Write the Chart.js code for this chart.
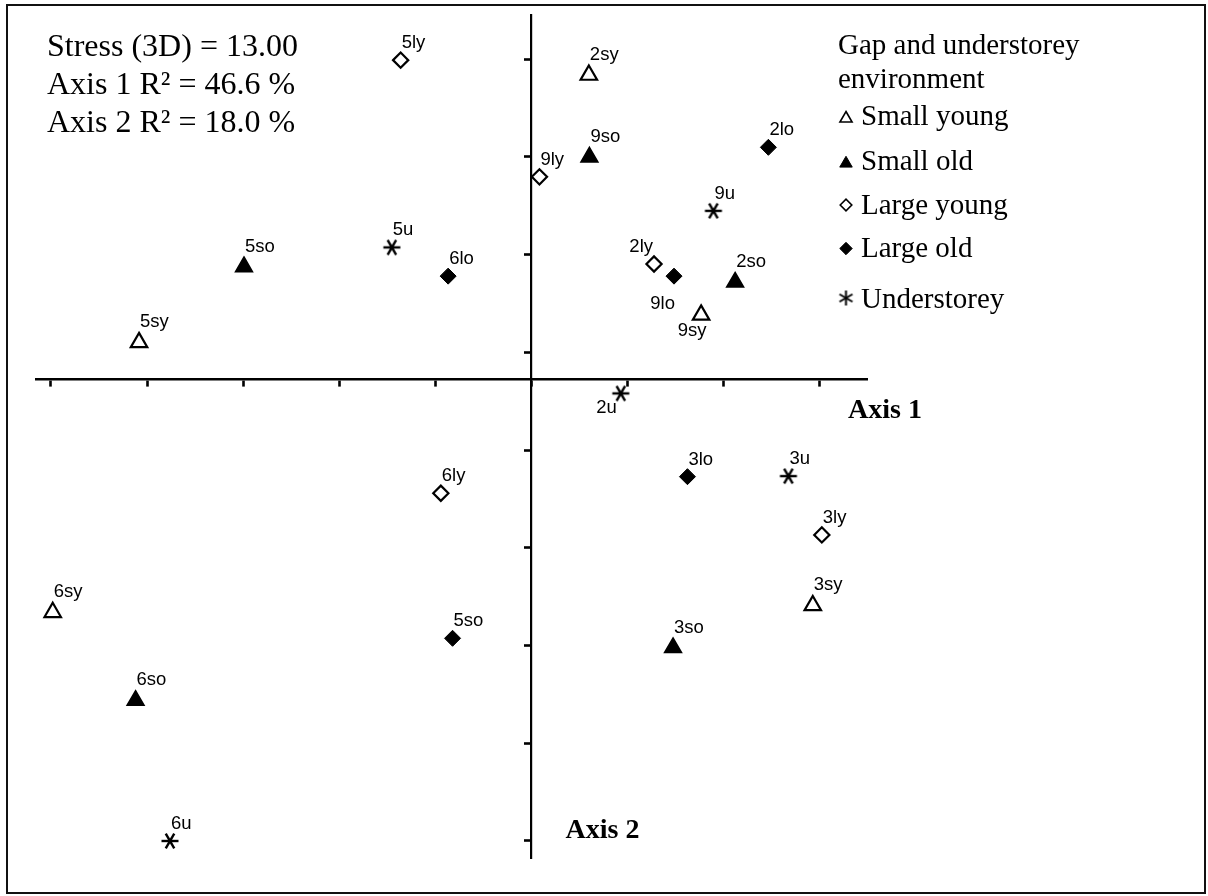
<!DOCTYPE html>
<html lang="en">
<head>
<meta charset="UTF-8">
<title>NMS ordination - gap and understorey environment</title>
<script src="https://cdn.jsdelivr.net/npm/chart.js@4.4.1/dist/chart.umd.min.js"></script>
<style>
    body { margin: 0; background: #fff; overflow: hidden; }
    #wrap { width: 1208px; height: 896px; position: relative; }
</style>
</head>
<body>
<div id="wrap"><canvas id="ordination"></canvas></div>
<script>
// site scores (axis 1 = x, axis 2 = y)
const smallYoungNames = ['2sy', '5sy', '9sy', '3sy', '6sy'];
const smallYoungX = [0.298, -2.042, 0.882, 1.463, -2.491];
const smallYoungY = [1.557, 0.189, 0.330, -1.157, -1.192];

const smallOldNames = ['9so', '5so', '2so', '3so', '6so'];
const smallOldX = [0.301, -1.496, 1.059, 0.736, -2.060];
const smallOldY = [1.137, 0.576, 0.497, -1.373, -1.643];

const largeYoungNames = ['5ly', '9ly', '2ly', '6ly', '3ly'];
const largeYoungX = [-0.681, 0.041, 0.637, -0.472, 1.510];
const largeYoungY = [1.633, 1.036, 0.590, -0.583, -0.796];

const largeOldNames = ['2lo', '6lo', '9lo', '3lo', '5so'];
const largeOldX = [1.232, -0.434, 0.741, 0.811, -0.411];
const largeOldY = [1.187, 0.528, 0.528, -0.498, -1.325];

const understoreyNames = ['5u', '9u', '2u', '3u', '6u'];
const understoreyX = [-0.727, 0.946, 0.464, 1.336, -1.881];
const understoreyY = [0.675, 0.862, -0.072, -0.495, -2.362];

const seriesLabels = ['Small young', 'Small old', 'Large young', 'Large old', 'Understorey'];
const legendTitle = ['Gap and understorey', 'environment'];
const statsLines = ['Stress (3D) = 13.00', 'Axis 1 R\u00B2 = 46.6 %', 'Axis 2 R\u00B2 = 18.0 %'];

// unlabelled tick marks on the two axes
const xTicks = [-2.5, -2.0, -1.5, -1.0, -0.5, 0, 0.5, 1.0, 1.5];
const yTicks = [1.638, 1.138, 0.638, 0.138, -0.362, -0.862, -1.362, -1.862, -2.362];
const xAxisRange = [-2.578, 1.745];
const yAxisRange = [-2.449, 1.864];

const SERIF = '"Liberation Serif", "Times New Roman", serif';
const SANS = '"Liberation Sans", Arial, sans-serif';

// labels that do not sit up-right of their marker: [dx, dy, align]
const labelOffsets = {
    '9lo': [1, 33, 'right'],
    '9sy': [-9, 21, 'center'],
    '2u': [-4, 20, 'right'],
    '2ly': [-1, -12, 'right']
};

function makeAsterisk(r, lw, angles) {
    const c = document.createElement('canvas');
    const s = Math.ceil(r * 2 + lw * 2);
    c.width = s; c.height = s;
    const g = c.getContext('2d');
    g.strokeStyle = '#000';
    g.lineWidth = lw;
    const m = s / 2;
    angles.forEach(deg => {
        const a = deg * Math.PI / 180;
        g.beginPath();
        g.moveTo(m - r * Math.cos(a), m - r * Math.sin(a));
        g.lineTo(m + r * Math.cos(a), m + r * Math.sin(a));
        g.stroke();
    });
    return c;
}

const starBig = makeAsterisk(8.5, 2.4, [0, 60, 120]);
const starSmall = makeAsterisk(7.5, 2, [90, 30, 150]);

function toPoints(names, xs, ys) {
    return names.map((n, i) => ({x: xs[i], y: ys[i], name: n}));
}

const datasets = [
    {label: seriesLabels[0], data: toPoints(smallYoungNames, smallYoungX, smallYoungY),
     pointStyle: 'triangle', pointRadius: 9.5, backgroundColor: '#fff', borderColor: '#000', borderWidth: 2.2, lift: 15,
     legendStyle: {pointStyle: 'triangle', radius: 7, fill: '#fff', bw: 1.6}},
    {label: seriesLabels[1], data: toPoints(smallOldNames, smallOldX, smallOldY),
     pointStyle: 'triangle', pointRadius: 9.8, backgroundColor: '#000', borderColor: '#000', borderWidth: 1.5, lift: 15,
     legendStyle: {pointStyle: 'triangle', radius: 7.2, fill: '#000', bw: 1}},
    {label: seriesLabels[2], data: toPoints(largeYoungNames, largeYoungX, largeYoungY),
     pointStyle: 'rectRot', pointRadius: 7.6, backgroundColor: '#fff', borderColor: '#000', borderWidth: 2.2, lift: 12,
     legendStyle: {pointStyle: 'rectRot', radius: 5.8, fill: '#fff', bw: 1.6}},
    {label: seriesLabels[3], data: toPoints(largeOldNames, largeOldX, largeOldY),
     pointStyle: 'rectRot', pointRadius: 8, backgroundColor: '#000', borderColor: '#000', borderWidth: 1, lift: 12,
     legendStyle: {pointStyle: 'rectRot', radius: 6.2, fill: '#000', bw: 1}},
    {label: seriesLabels[4], data: toPoints(understoreyNames, understoreyX, understoreyY),
     pointStyle: starBig, pointRadius: 8, backgroundColor: '#000', borderColor: '#000', borderWidth: 0, lift: 12,
     legendStyle: {pointStyle: starSmall, radius: 7, fill: '#000', bw: 0}}
];

const legendBaselines = [125, 170, 213.5, 257, 308];

const figureText = {
    id: 'figureText',
    beforeDraw(chart) {
        const ctx = chart.ctx;
        ctx.save();
        ctx.fillStyle = '#fff';
        ctx.fillRect(0, 0, chart.width, chart.height);
        ctx.strokeStyle = '#111';
        ctx.lineWidth = 2;
        ctx.strokeRect(7, 5, 1198, 888);
        ctx.restore();
    },
    afterDatasetsDraw(chart) {
        const ctx = chart.ctx;
        ctx.save();
        ctx.fillStyle = '#000';
        ctx.font = '18.5px ' + SANS;
        ctx.textBaseline = 'alphabetic';
        chart.data.datasets.forEach((ds, d) => {
            const meta = chart.getDatasetMeta(d);
            meta.data.forEach((pt, i) => {
                const name = ds.data[i].name;
                const off = labelOffsets[name];
                if (off) {
                    ctx.textAlign = off[2];
                    ctx.fillText(name, pt.x + off[0], pt.y + off[1]);
                } else {
                    ctx.textAlign = 'left';
                    ctx.fillText(name, pt.x + 1, pt.y - ds.lift);
                }
            });
        });
        ctx.restore();
    },
    afterDraw(chart) {
        const ctx = chart.ctx;
        const area = chart.chartArea;
        const y0 = chart.scales.y.getPixelForValue(0);
        const x0 = chart.scales.x.getPixelForValue(0);
        ctx.save();
        ctx.fillStyle = '#000';
        ctx.textAlign = 'left';
        ctx.textBaseline = 'alphabetic';

        // stress / R² block
        ctx.font = '32px ' + SERIF;
        statsLines.forEach((t, i) => ctx.fillText(t, 47, 56 + i * 37.8));

        // axis names
        ctx.font = 'bold 28px ' + SERIF;
        ctx.fillText('Axis 1', area.right - 19, y0 + 39);
        ctx.fillText('Axis 2', x0 + 34, area.bottom - 20);

        // legend
        ctx.font = '29px ' + SERIF;
        legendTitle.forEach((t, i) => ctx.fillText(t, 838, 53.5 + i * 34.5));
        chart.data.datasets.forEach((ds, i) => {
            const base = legendBaselines[i];
            const st = ds.legendStyle;
            const sy = st.pointStyle === 'triangle' ? base - 6.5 : base - 8.5;
            ctx.save();
            ctx.fillStyle = st.fill;
            ctx.strokeStyle = '#000';
            ctx.lineWidth = st.bw;
            Chart.helpers.drawPoint(ctx, {pointStyle: st.pointStyle, rotation: 0, radius: st.radius, borderWidth: st.bw}, 846, typeof st.pointStyle === 'string' ? sy : base - 10);
            ctx.restore();
            ctx.fillText(ds.label, 861, base);
        });
        ctx.restore();
    }
};

const tickGrid = {display: true, drawOnChartArea: false, drawTicks: true, tickLength: 6, tickWidth: 2.6, tickColor: '#000', color: '#000'};

new Chart(document.getElementById('ordination'), {
    type: 'scatter',
    data: {datasets: datasets},
    options: {
        responsive: true,
        maintainAspectRatio: false,
        animation: false,
        layout: {padding: {left: 36, right: 341, top: 15, bottom: 38}},
        plugins: {legend: {display: false}, tooltip: {enabled: false}},
        scales: {
            x: {
                type: 'linear', position: {y: 0}, bounds: 'data',
                min: xAxisRange[0], max: xAxisRange[1],
                afterBuildTicks: s => { s.ticks = xTicks.map(v => ({value: v})); },
                ticks: {display: false},
                grid: tickGrid,
                border: {display: true, width: 2.6, color: '#000'}
            },
            y: {
                type: 'linear', position: {x: 0}, bounds: 'data',
                min: yAxisRange[0], max: yAxisRange[1],
                afterBuildTicks: s => { s.ticks = yTicks.map(v => ({value: v})); },
                ticks: {display: false},
                grid: tickGrid,
                border: {display: true, width: 2.2, color: '#000'}
            }
        }
    },
    plugins: [figureText]
});
</script>
</body>
</html>
